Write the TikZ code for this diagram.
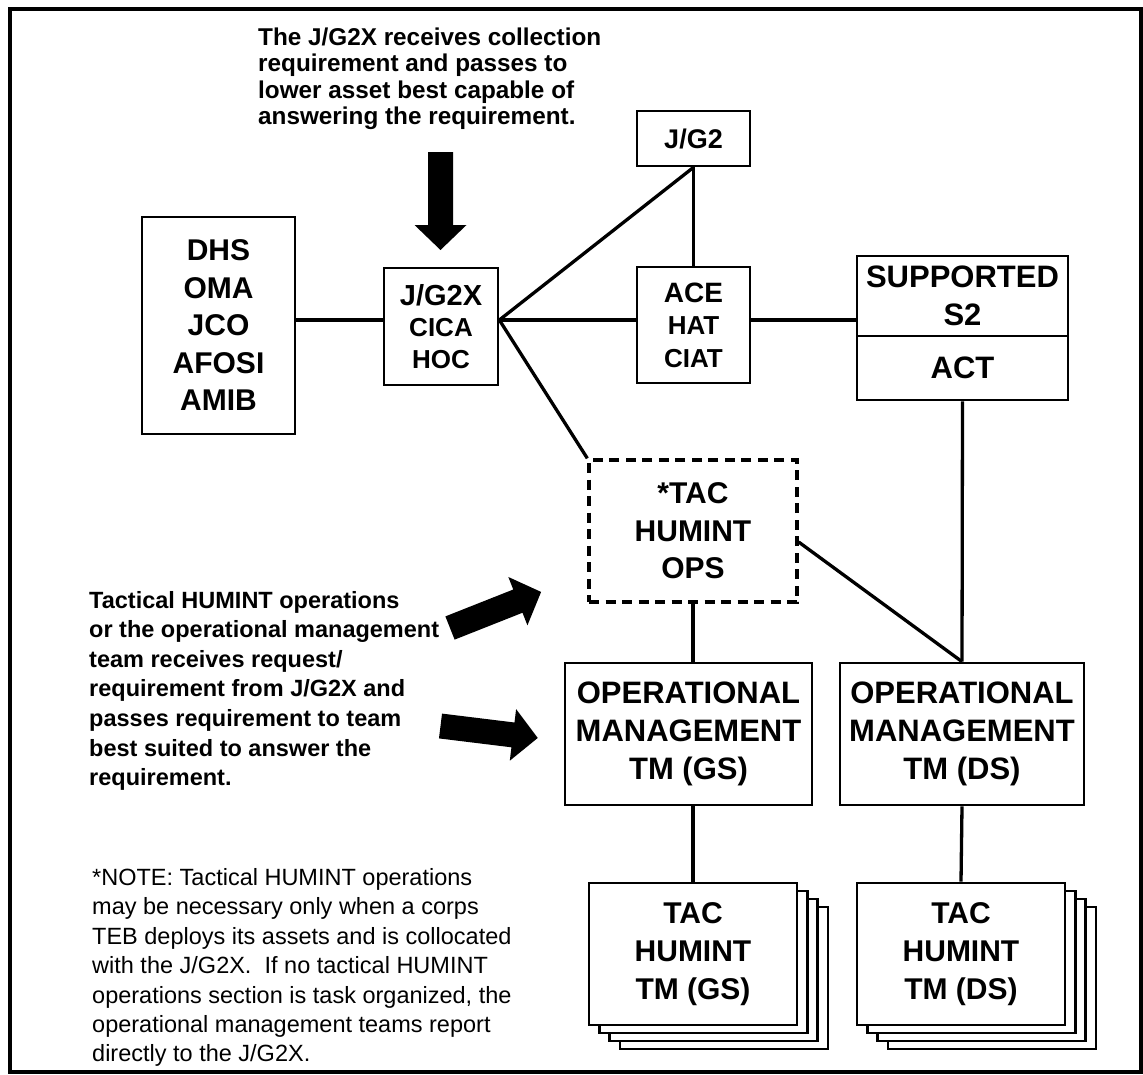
\documentclass[tikz,border=0pt]{standalone}
\usepackage{fontspec}
\setmainfont{Liberation Sans}
\begin{document}
\begin{tikzpicture}
	 [x=1pt,y=-1pt,
	  box/.style={draw,line width=2.7pt,fill=white,inner sep=0pt,align=center,
	    font=\fontsize{30}{37.5}\selectfont\bfseries},
	  opsbox/.style={box,line width=3.3pt,dash pattern=on 10pt off 6.5pt},
	  tmbox/.style={box,minimum width=208pt,minimum height=142pt,font=\fontsize{30}{38}\selectfont\bfseries},
	  link/.style={line width=3.3pt},
	  note/.style={anchor=base west,inner sep=0pt,align=left},
	  bigarrow/.pic={\fill (0,-12.5) -- (73,-12.5) -- (73,-26) -- (98,0) -- (73,26) -- (73,12.5) -- (0,12.5) -- cycle;}]

  \useasboundingbox (0,0) rectangle (1143,1074);
  \clip (0,0) rectangle (1143,1074);
  \draw[line width=3.3pt] (10,9) rectangle (1141,1072);

  \node[box,minimum width=153pt,minimum height=217pt] (dhs) at (218.5,325.5) {DHS\\OMA\\JCO\\AFOSI\\AMIB};
    \node[box,minimum width=114pt,minimum height=117pt,font=\fontsize{26}{31.5}\selectfont\bfseries] (jgx) at (441,326.5)
      {{\fontsize{29}{31.5}\selectfont J/G2X}\\CICA\\HOC};
    \node[box,minimum width=113pt,minimum height=55pt,font=\fontsize{27}{30}\selectfont\bfseries] (jg2) at (693.5,138.5) {J/G2};
    \node[box,minimum width=113pt,minimum height=116pt,font=\fontsize{26}{32.5}\selectfont\bfseries] (ace) at (693.5,325)
      {{\fontsize{28}{32.5}\selectfont ACE}\\HAT\\CIAT};
    \node[box,minimum width=211pt,minimum height=80pt,font=\fontsize{31}{38}\selectfont\bfseries] (sup) at (962.5,296) {SUPPORTED\\S2};
    \node[box,minimum width=211pt,minimum height=64pt,font=\fontsize{31}{38}\selectfont\bfseries] (act) at (962.5,368) {ACT};

	 \node[opsbox,minimum width=208pt,minimum height=142pt] (ops) at (693,531) {*TAC\\HUMINT\\OPS};
    \node[box,minimum width=247pt,minimum height=142pt,font=\fontsize{31}{38}\selectfont\bfseries] (omgs) at (688.5,734)
      {OPERATIONAL\\MANAGEMENT\\TM (GS)};
    \node[box,minimum width=244pt,minimum height=142pt,font=\fontsize{31}{38}\selectfont\bfseries] (omds) at (962,734)
      {OPERATIONAL\\MANAGEMENT\\TM (DS)};

    \foreach \d in {3,2,1} {
      \node[tmbox] (tacgs\d) at (693+10.3*\d,954+8*\d) {};
      \node[tmbox] (tacds\d) at (961+10.3*\d,954+8*\d) {};
    }
    \node[tmbox] (tacgs) at (693,954) {TAC\\HUMINT\\TM (GS)};
    \node[tmbox] (tacds) at (961,954) {TAC\\HUMINT\\TM (DS)};

    \coordinate (hub) at ([yshift=6.5pt]jgx.east);
    \coordinate (opsR) at ([yshift=-11pt]ops.east);
    \foreach \from/\to in {hub-|dhs.east/hub-|jgx.west,hub/jg2.south,hub/hub-|ace.west,hub-|ace.east/hub-|sup.west,
      jg2.south/ace.north,hub/ops.north west,ops.south/ops.south|-omgs.north,act.south/omds.north,opsR/omds.north,
      omgs.south-|tacgs.north/tacgs.north,omds.south/tacds.north}
    \draw[link] (\from) -- (\to);

    \pic[rotate=-90] (downarrow) at (440.5,152) {bigarrow};
    \pic[rotate=21.6] (opsarrow) at (450,628) {bigarrow};
    \pic[rotate=-7] (omarrow) at (440.5,726) {bigarrow};

    % base west sits on the last line
	 \node[note,font=\fontsize{24.3}{26.5}\selectfont\bfseries] (topnote) at (258,124.5)
      {The J/G2X receives collection\\requirement and passes to\\lower asset best capable of\\answering the requirement.};
    \node[note,font=\fontsize{23.5}{29.6}\selectfont\bfseries] (midnote) at (89,785.6)
      {Tactical HUMINT operations\\or the operational management\\team receives request/\\requirement from J/G2X and\\passes requirement to team\\best suited to answer the\\requirement.};
    \node[note,font=\fontsize{23.5}{29.4}\selectfont] (footnote) at (92,1061.9)
      {*NOTE: Tactical HUMINT operations\\may be necessary only when a corps\\TEB deploys its assets and is collocated\\with the J/G2X.\ \ If no tactical HUMINT\\operations section is task organized, the\\operational management teams report\\directly to the J/G2X.};

\end{tikzpicture}
\end{document}
